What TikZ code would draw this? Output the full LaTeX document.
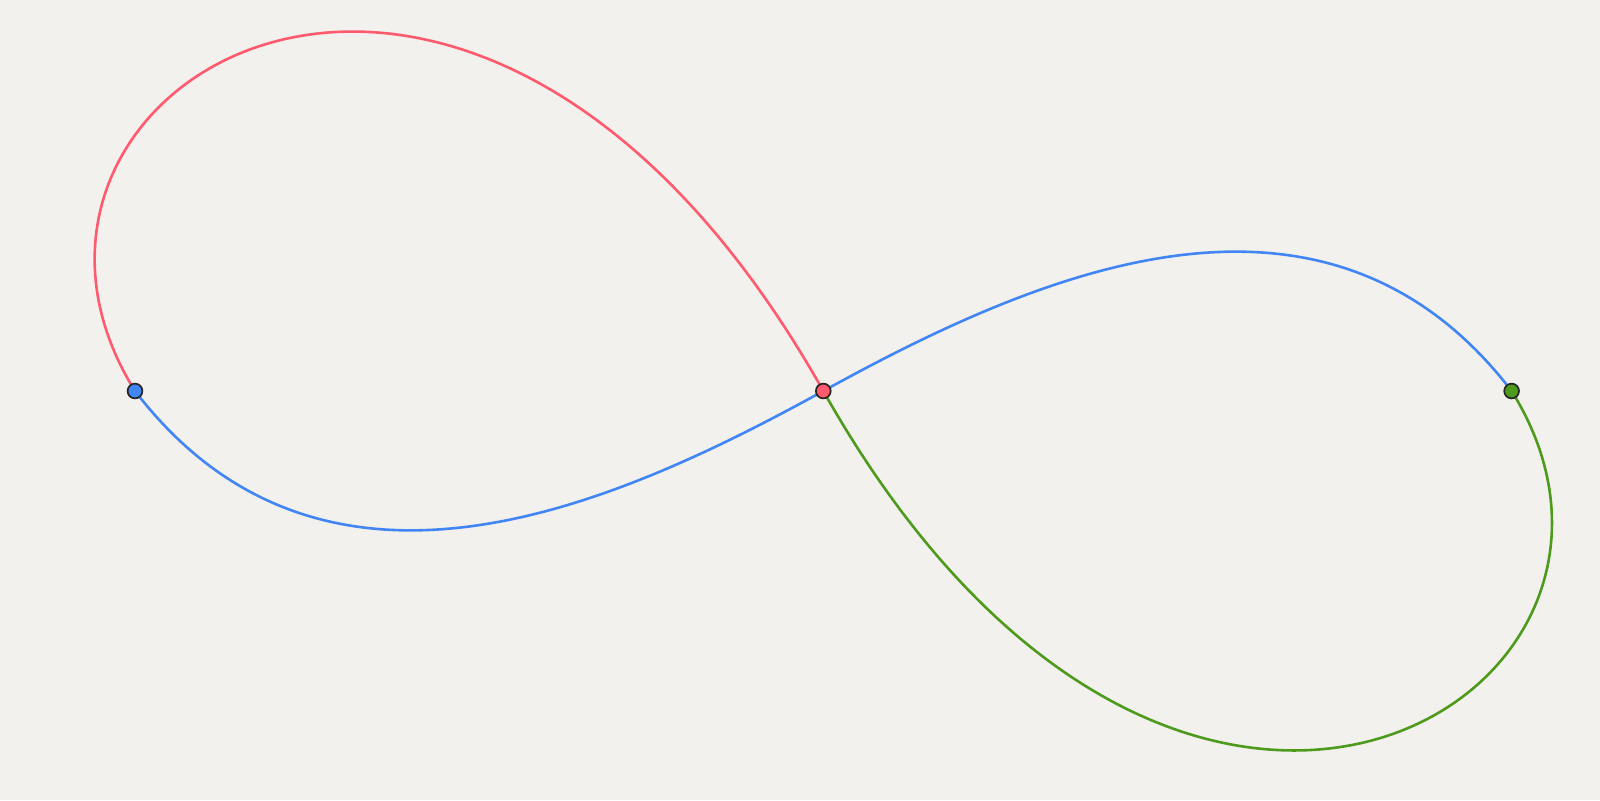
\documentclass[tikz,border=0pt]{standalone}
\usepackage{tikz}
\definecolor{bgc}{HTML}{F2F1ED}
\definecolor{redc}{HTML}{FF5A6E}
\definecolor{bluec}{HTML}{4285F4}
\definecolor{greenc}{HTML}{4E9A1C}
\tikzset{
  curve/.style={line width=1.3pt},
  dot/.style={circle, draw=black!85, line width=0.85pt, inner sep=0pt, minimum size=7.4pt},
}
\begin{document}
\begin{tikzpicture}[x=0.5pt, y=-0.5pt]
\useasboundingbox (0,0) rectangle (1600,800);
\fill[bgc] (0,0) rectangle (1600,800);
\coordinate (L) at (135,391);
\coordinate (C) at (823.3,391);
\coordinate (R) at (1511.6,391);
\draw[curve, redc] (L) .. controls (-55.3,85.8) and (470,-236) .. (C);
\draw[curve, greenc] (C) .. controls (1176.6,1018) and (1701.9,696.2) .. (R);
\draw[curve, bluec] (L) .. controls (323,636) and (613.1,506.7) .. (C);
\draw[curve, bluec] (C) .. controls (1033.5,275.3) and (1323.6,146) .. (R);
\node[dot, fill=bluec] (Ldot) at (L) {};
\node[dot, fill=redc] (Cdot) at (C) {};
\node[dot, fill=greenc] (Rdot) at (R) {};
\end{tikzpicture}
\end{document}
